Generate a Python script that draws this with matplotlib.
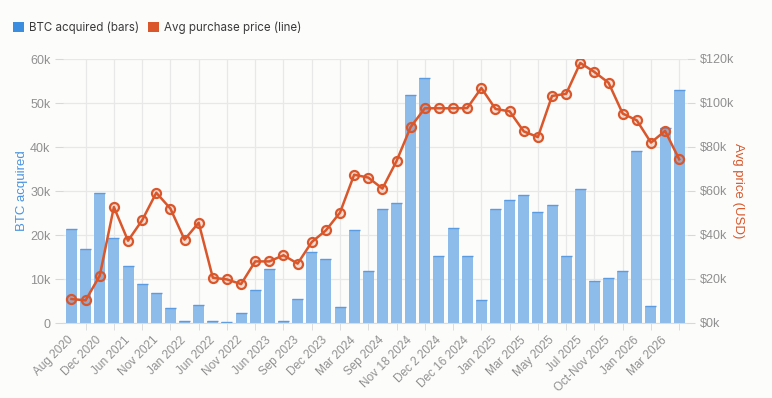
import matplotlib.pyplot as plt
from matplotlib.patches import Patch

# BTC acquired per period (thousands of BTC) and average purchase price (k USD)
btc_k = [21.4, 16.8, 29.5, 19.4, 13.0, 8.9, 6.9, 3.3, 0.5, 4.2, 0.5, 0.3, 2.3, 7.5,
         12.3, 0.4, 5.5, 16.1, 14.5, 3.7, 21.2, 11.9, 25.8, 27.3, 51.9, 55.7, 15.3, 21.5,
         15.3, 5.2, 25.8, 28.0, 29.2, 25.2, 26.9, 15.2, 30.5, 9.6, 10.2, 11.9, 39.2, 3.9,
         44.4, 53.0]
price_k = [10.9, 10.3, 21.5, 52.7, 37.4, 46.7, 59.2, 52.0, 37.9, 45.6, 20.6, 19.8, 17.7, 28.0,
           28.0, 30.8, 27.0, 36.8, 42.1, 50.2, 67.4, 66.1, 61.1, 73.6, 89.1, 97.6, 97.6, 97.6,
           97.7, 106.8, 97.3, 96.2, 87.1, 84.5, 103.2, 104.2, 118.2, 114.1, 109.2, 95.2, 92.1, 82.0,
           87.3, 74.4]
# labels shown on every other category
tick_labels = ['Aug 2020', 'Dec 2020', 'Jun 2021', 'Nov 2021', 'Jan 2022', 'Jun 2022',
               'Nov 2022', 'Jun 2023', 'Sep 2023', 'Dec 2023', 'Mar 2024', 'Sep 2024',
               'Nov 18 2024', 'Dec 2 2024', 'Dec 16 2024', 'Jan 2025', 'Mar 2025', 'May 2025',
               'Jul 2025', 'Oct-Nov 2025', 'Jan 2026', 'Mar 2026']

blue = '#3b8de0'
bar_fill = '#8dbbea'
orange = '#d9572b'
grid_c = '#e8e8e8'
tick_c = '#909090'
plt.rcParams['font.family'] = ['Liberation Sans', 'DejaVu Sans']

x = list(range(len(btc_k)))
btc = [v * 1000 for v in btc_k]
price = [v * 1000 for v in price_k]

fig = plt.figure(figsize=(7.72, 3.98), dpi=100, facecolor='#fcfcfb')
ax = fig.add_axes([63 / 772, 1 - 323 / 398, 624 / 772, 264 / 398])
ax.set_facecolor('#fcfcfb')
ax2 = ax.twinx()

# bars
ax.bar(x, btc, width=0.78, color=bar_fill, zorder=2)
# darker top edge on each bar
ax.bar(x, [0] * len(x), bottom=btc, width=0.78, color=bar_fill,
       edgecolor='#5a9be2', linewidth=1.0, zorder=2)

# line, then translucent markers so the line shows through them
ax2.plot(x, price, color=orange, linewidth=1.8, zorder=3)
ax2.plot(x, price, linestyle='none', marker='o', markersize=6.5,
         markerfacecolor=(0.85, 0.34, 0.17, 0.18), markeredgecolor=orange,
         markeredgewidth=1.6, zorder=4)

ax.set_xlim(-0.6, 43.55)
ax.set_ylim(0, 60000)
ax2.set_ylim(0, 120000)
ax.set_yticks(range(0, 60001, 10000))
ax.set_yticklabels(['0'] + ['%dk' % (v // 1000) for v in range(10000, 60001, 10000)])
ax2.set_yticks(range(0, 120001, 20000))
ax2.set_yticklabels(['$%dk' % (v // 1000) for v in range(0, 120001, 20000)])

ax.set_xticks(range(0, len(x), 2))
ax.set_xticklabels(tick_labels, rotation=45, ha='right', va='center', rotation_mode='anchor')
ax.set_xticks(range(1, len(x), 2), minor=True)
ax.tick_params(axis='x', which='major', length=0, pad=11, labelsize=8.5, labelcolor=tick_c)
ax.tick_params(axis='x', which='minor', length=5, color='#d8d8d8')
ax.tick_params(axis='y', length=6, color='#d8d8d8', labelsize=9, labelcolor=tick_c, pad=3)
ax2.tick_params(axis='y', length=6, color='#d8d8d8', labelsize=9, labelcolor=tick_c, pad=3)

ax.grid(axis='y', color=grid_c, linewidth=0.9, zorder=0)
ax.grid(axis='x', which='minor', color=grid_c, linewidth=0.9, zorder=0)
ax.set_axisbelow(True)
for a in (ax, ax2):
    for s in a.spines.values():
        s.set_visible(False)
ax.spines['bottom'].set_visible(True)
ax.spines['bottom'].set_color('#dcdcdc')

fig.text(22 / 772, 1 - 191 / 398, 'BTC acquired', rotation=90, color='#4a93e0',
         fontsize=9.5, ha='center', va='center')
fig.text(738 / 772, 1 - 191 / 398, 'Avg price (USD)', rotation=270, color=orange,
         fontsize=9.5, ha='center', va='center')

handles = [Patch(facecolor=blue, edgecolor='none'), Patch(facecolor=orange, edgecolor='none')]
fig.legend(handles, ['BTC acquired (bars)', 'Avg purchase price (line)'],
           loc='upper left', bbox_to_anchor=(3 / 772, 1 - 11 / 398), ncol=2, frameon=False,
           handlelength=0.9, handleheight=0.9, handletextpad=0.45,
           columnspacing=0.8, labelcolor='#3a3a3a', prop={'family': 'Inter', 'size': 8.3})

plt.savefig('out.png', dpi=100, facecolor=fig.get_facecolor())
